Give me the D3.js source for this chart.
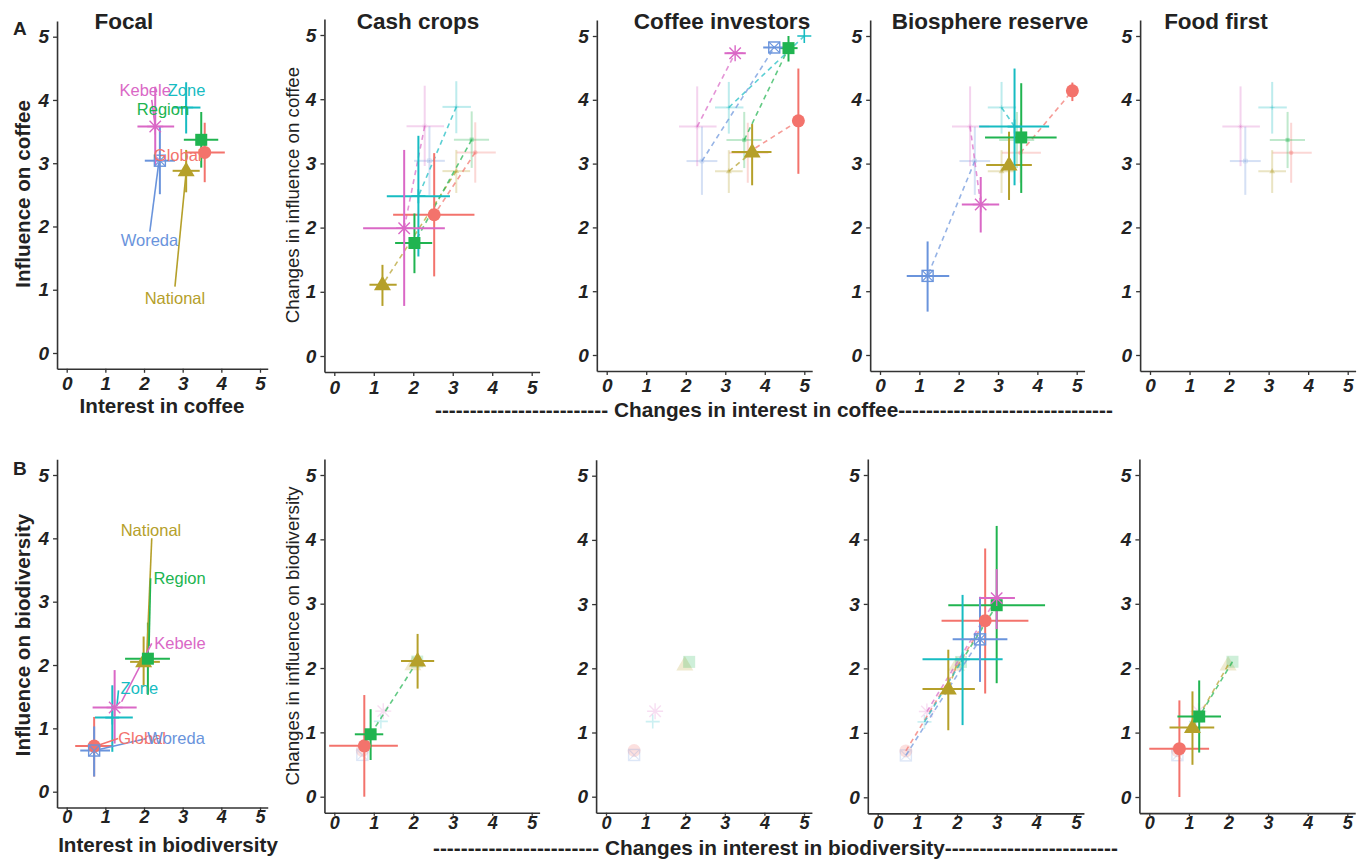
<!DOCTYPE html>
<html>
<head>
<meta charset="utf-8">
<script src="https://cdn.jsdelivr.net/npm/d3@7"></script>
<style>
  body { margin: 0; background: #fff; }
  text { font-family: "Liberation Sans", Arial, sans-serif; }
</style>
</head>
<body>
<div class="div-chart"></div>
<script>
// stakeholder levels and their colours (ggplot hue palette, as printed)
const levels = ["Global", "National", "Region", "Zone", "Woreda", "Kebele"];
const colours = ["#F3736C", "#B5A02A", "#20B450", "#17BCC2", "#6A94DC", "#DA68C6"];
const tickValues = [0, 1, 2, 3, 4, 5];

// rows: level, x, xLo, xHi, y, yLo, yHi
const focalCoffee = [
  ["Global", 3.57, 3.10, 4.09, 3.17, 2.70, 3.64],
  ["National", 3.09, 2.74, 3.44, 2.88, 2.54, 3.21],
  ["Region", 3.48, 3.03, 3.92, 3.37, 2.93, 3.81],
  ["Zone", 3.09, 2.74, 3.46, 3.88, 3.47, 4.28],
  ["Woreda", 2.41, 2.02, 2.80, 3.04, 2.51, 3.58],
  ["Kebele", 2.29, 1.83, 2.78, 3.58, 2.96, 4.21]
];
const cashCoffee = [
  ["Global", 2.53, 1.49, 3.55, 2.20, 1.24, 3.16],
  ["National", 1.22, 0.89, 1.58, 1.11, 0.78, 1.42],
  ["Region", 2.03, 1.54, 2.48, 1.76, 1.29, 2.22],
  ["Zone", 2.13, 1.33, 2.93, 2.49, 1.55, 3.43],
  ["Kebele", 1.77, 0.73, 2.80, 1.99, 0.78, 3.21]
];
const investorsCoffee = [
  ["Global", 4.85, 4.85, 4.85, 3.67, 2.84, 4.49],
  ["National", 3.68, 3.16, 4.17, 3.18, 2.66, 3.62],
  ["Region", 4.60, 4.38, 4.83, 4.81, 4.60, 5.00],
  ["Zone", 5.00, 5.00, 5.00, 5.00, 5.00, 5.00],
  ["Woreda", 4.24, 3.96, 4.55, 4.82, 4.82, 4.82],
  ["Kebele", 3.25, 2.98, 3.52, 4.73, 4.73, 4.73]
];
const biosphereCoffee = [
  ["Global", 4.89, 4.89, 4.89, 4.14, 3.98, 4.27],
  ["National", 3.28, 2.70, 3.86, 2.98, 2.43, 3.50],
  ["Region", 3.59, 2.67, 4.49, 3.41, 2.54, 4.26],
  ["Zone", 3.42, 2.52, 4.30, 3.58, 2.66, 4.49],
  ["Woreda", 1.21, 0.68, 1.76, 1.24, 0.68, 1.78],
  ["Kebele", 2.56, 2.08, 3.03, 2.36, 1.92, 2.79]
];
const foodCoffee = [];

const focalBio = [
  ["Global", 0.71, 0.22, 1.20, 0.72, 0.24, 1.18],
  ["National", 1.99, 1.64, 2.41, 2.05, 1.66, 2.45],
  ["Region", 2.10, 1.51, 2.67, 2.10, 1.53, 2.67],
  ["Zone", 1.18, 0.73, 1.71, 1.17, 0.63, 1.68],
  ["Woreda", 0.71, 0.35, 1.12, 0.65, 0.24, 1.03],
  ["Kebele", 1.24, 0.67, 1.81, 1.33, 0.76, 1.92]
];
const cashBio = [
  ["Global", 0.76, -0.13, 1.61, 0.79, 0.00, 1.58],
  ["National", 2.11, 1.69, 2.53, 2.11, 1.68, 2.53],
  ["Region", 0.92, 0.52, 1.24, 0.97, 0.57, 1.36]
];
const investorsBio = [];
const biosphereBio = [
  ["Global", 2.71, 1.61, 3.80, 2.74, 1.61, 3.86],
  ["National", 1.78, 1.13, 2.45, 1.68, 1.04, 2.29],
  ["Region", 3.00, 1.78, 4.22, 2.98, 1.77, 4.21],
  ["Zone", 2.14, 1.13, 3.15, 2.14, 1.12, 3.14],
  ["Woreda", 2.58, 1.89, 3.27, 2.45, 1.79, 3.11],
  ["Kebele", 3.00, 2.56, 3.46, 3.09, 2.61, 3.54]
];
const foodBio = [
  ["Global", 0.76, 0.00, 1.51, 0.75, 0.00, 1.50],
  ["National", 1.09, 0.51, 1.64, 1.08, 0.50, 1.64],
  ["Region", 1.26, 0.71, 1.81, 1.25, 0.69, 1.81]
];

// repelled labels in focal panels: level, labelX, labelY, segment from (x1,y1) to (x2,y2)
const focalCoffeeLabels = [
  ["Kebele", 2.03, 4.15, 2.2, 4.0, 2.28, 3.62],
  ["Zone", 3.10, 4.15, 3.09, 4.05, 3.09, 3.9],
  ["Region", 2.49, 3.85, 2.49, 3.85, 2.49, 3.85],
  ["Global", 2.87, 3.13, 2.87, 3.13, 2.87, 3.13],
  ["Woreda", 2.14, 1.79, 2.15, 1.92, 2.38, 3.0],
  ["National", 2.80, 0.86, 2.80, 1.05, 3.08, 2.8]
];
const focalBioLabels = [
  ["National", 2.18, 4.13, 2.2, 4.0, 2.07, 2.13],
  ["Region", 2.92, 3.37, 2.17, 3.37, 2.13, 2.3],
  ["Kebele", 2.93, 2.34, 2.2, 2.34, 1.42, 1.42],
  ["Zone", 1.88, 1.63, 1.34, 1.6, 1.3, 1.36],
  ["Global", 1.95, 0.84, 1.33, 0.84, 0.8, 0.73],
  ["Woreda", 2.83, 0.84, 2.07, 0.84, 0.86, 0.67]
];

const panelTitles = ["Focal", "Cash crops", "Coffee investors", "Biosphere reserve", "Food first"];

const width = 1366, height = 860;
const svg = d3.select(".div-chart").append("svg")
  .attr("width", width).attr("height", height)
  .attr("viewBox", `0 0 ${width} ${height}`);

const colourScale = d3.scaleOrdinal().domain(levels).range(colours);

// pixel positions of tick 0 and tick 5 for every panel
const boxesA = [
  { x0: 66.7, x5: 260, y0: 353, y5: 36.7 },
  { x0: 334.3, x5: 531.7, y0: 356, y5: 35 },
  { x0: 606.7, x5: 804.3, y0: 355, y5: 36 },
  { x0: 880, x5: 1076.7, y0: 355, y5: 36 },
  { x0: 1150, x5: 1347.7, y0: 355, y5: 36 }
];
const boxesB = [
  { x0: 66.7, x5: 260, y0: 791.7, y5: 475 },
  { x0: 334.3, x5: 531.7, y0: 796.7, y5: 475 },
  { x0: 606, x5: 804, y0: 796.7, y5: 475.7 },
  { x0: 877.7, x5: 1076, y0: 797.3, y5: 475 },
  { x0: 1149.3, x5: 1347.3, y0: 797, y5: 475 }
];

function makePanel(box, tight) {
  const u = (box.x5 - box.x0) / 5;
  const v = (box.y0 - box.y5) / 5;
  const x = d3.scaleLinear().domain([-0.25, 5.2]).range([box.x0 - 0.25 * u, box.x0 + 5.2 * u]);
  const y = d3.scaleLinear().domain([-0.25, 5.25]).range([box.y0 + 0.25 * v, box.y5 - 0.25 * v]);
  const g = svg.append("g");

  // the lower row prints its x tick labels close to the axis
  const xAxis = g.append("g")
    .attr("transform", `translate(0,${y(-0.25)})`)
    .call(d3.axisBottom(x).tickValues(tickValues).tickFormat(d3.format("d"))
      .tickSize(tight ? 3 : 4).tickSizeOuter(0).tickPadding(tight ? 0 : 4));
  const yAxis = g.append("g")
    .attr("transform", `translate(${x(-0.25)},0)`)
    .call(d3.axisLeft(y).tickValues(tickValues).tickFormat(d3.format("d"))
      .tickSize(4).tickSizeOuter(0).tickPadding(4));
  [xAxis, yAxis].forEach((a) => {
    a.select(".domain").attr("stroke", "#333").attr("stroke-width", 1.6);
    a.selectAll(".tick line").attr("stroke", "#333").attr("stroke-width", 1.3);
    a.selectAll(".tick text")
      .attr("fill", "#222")
      .style("font-family", '"Liberation Sans", Arial, sans-serif')
      .style("font-size", "19px")
      .style("font-weight", "bold")
      .style("font-style", "italic");
  });
  if (tight) xAxis.selectAll(".tick text").style("font-size", "18px");
  return { g, x, y };
}

function drawSymbol(g, level, cx, cy, k, colour, opacity) {
  const s = g.append("g").attr("transform", `translate(${cx},${cy}) scale(${k})`).attr("opacity", opacity);
  if (level === "Global") {
    s.append("circle").attr("r", 6.5).attr("fill", colour);
  } else if (level === "National") {
    s.append("path").attr("d", "M0,-9L8.5,5.5L-8.5,5.5Z").attr("fill", colour);
  } else if (level === "Region") {
    s.append("rect").attr("x", -6).attr("y", -6).attr("width", 12).attr("height", 12).attr("fill", colour);
  } else if (level === "Zone") {
    s.append("path").attr("d", "M-7,0H7M0,-7V7").attr("stroke", colour).attr("stroke-width", 1.6).attr("fill", "none");
  } else if (level === "Woreda") {
    s.append("rect").attr("x", -5.5).attr("y", -5.5).attr("width", 11).attr("height", 11)
      .attr("fill", "none").attr("stroke", colour).attr("stroke-width", 1.4);
    s.append("path").attr("d", "M-5.5,-5.5L5.5,5.5M-5.5,5.5L5.5,-5.5").attr("stroke", colour).attr("stroke-width", 1.1);
  } else {
    s.append("path").attr("d", "M-8,0H8M0,-8V8M-5.7,-5.7L5.7,5.7M-5.7,5.7L5.7,-5.7")
      .attr("stroke", colour).attr("stroke-width", 1.4).attr("fill", "none");
  }
}

function drawErrorBars(g, x, y, d, opacity, lineWidth) {
  const colour = colourScale(d[0]);
  g.append("line")
    .attr("x1", x(d[2])).attr("x2", x(d[3])).attr("y1", y(d[4])).attr("y2", y(d[4]))
    .attr("stroke", colour).attr("stroke-width", lineWidth).attr("opacity", opacity);
  g.append("line")
    .attr("x1", x(d[1])).attr("x2", x(d[1])).attr("y1", y(d[5])).attr("y2", y(d[6]))
    .attr("stroke", colour).attr("stroke-width", lineWidth).attr("opacity", opacity);
}

function drawFocal(p, data, labels) {
  data.forEach((d) => drawErrorBars(p.g, p.x, p.y, d, 1, 2));
  labels.forEach((l) => {
    p.g.append("line")
      .attr("x1", p.x(l[3])).attr("y1", p.y(l[4])).attr("x2", p.x(l[5])).attr("y2", p.y(l[6]))
      .attr("stroke", colourScale(l[0])).attr("stroke-width", 1.6);
  });
  data.forEach((d) => drawSymbol(p.g, d[0], p.x(d[1]), p.y(d[4]), 1, colourScale(d[0]), 1));
  labels.forEach((l) => {
    p.g.append("text")
      .attr("x", p.x(l[1])).attr("y", p.y(l[2]))
      .attr("dy", "0.35em")
      .attr("text-anchor", "middle")
      .attr("fill", colourScale(l[0]))
      .style("font-size", "16.5px")
      .text(l[0]);
  });
}

function drawScenario(p, base, data, fadedWithBars) {
  // faded baseline
  base.forEach((d) => {
    if (fadedWithBars) {
      drawErrorBars(p.g, p.x, p.y, d, 0.28, 2);
      drawSymbol(p.g, d[0], p.x(d[1]), p.y(d[4]), 0.35, colourScale(d[0]), 0.35);
    } else {
      drawSymbol(p.g, d[0], p.x(d[1]), p.y(d[4]), 1, colourScale(d[0]), 0.22);
    }
  });
  // dashed change lines
  data.forEach((d) => {
    const b = base.find((e) => e[0] === d[0]);
    p.g.append("line")
      .attr("x1", p.x(b[1])).attr("y1", p.y(b[4])).attr("x2", p.x(d[1])).attr("y2", p.y(d[4]))
      .attr("stroke", colourScale(d[0])).attr("stroke-width", 1.6)
      .attr("stroke-dasharray", "5,4").attr("opacity", 0.7);
  });
  data.forEach((d) => drawErrorBars(p.g, p.x, p.y, d, 1, 2));
  data.forEach((d) => drawSymbol(p.g, d[0], p.x(d[1]), p.y(d[4]), 1, colourScale(d[0]), 1));
}

const scenariosA = [cashCoffee, investorsCoffee, biosphereCoffee, foodCoffee];
const scenariosB = [cashBio, investorsBio, biosphereBio, foodBio];

const panelsA = boxesA.map((b) => makePanel(b, false));
const panelsB = boxesB.map((b) => makePanel(b, true));

drawFocal(panelsA[0], focalCoffee, focalCoffeeLabels);
drawFocal(panelsB[0], focalBio, focalBioLabels);
scenariosA.forEach((s, i) => drawScenario(panelsA[i + 1], focalCoffee, s, true));
scenariosB.forEach((s, i) => drawScenario(panelsB[i + 1], focalBio, s, false));

// titles
const titleX = [124, 418, 722, 990, 1216];
panelTitles.forEach((t, i) => {
  svg.append("text").attr("x", titleX[i]).attr("y", 29)
    .attr("text-anchor", "middle").style("font-size", "22.5px").style("font-weight", "bold")
    .attr("fill", "#222").text(t);
});
svg.append("text").attr("x", 13).attr("y", 35).style("font-size", "19px").style("font-weight", "bold").attr("fill", "#222").text("A");
svg.append("text").attr("x", 13).attr("y", 475).style("font-size", "19px").style("font-weight", "bold").attr("fill", "#222").text("B");

// axis titles
function vTitle(x, y, size, weight, t) {
  svg.append("text").attr("transform", `translate(${x},${y}) rotate(-90)`)
    .attr("text-anchor", "middle").style("font-size", size + "px").style("font-weight", weight)
    .attr("fill", "#222").text(t);
}
function hTitle(x, y, size, t, anchor) {
  svg.append("text").attr("x", x).attr("y", y)
    .attr("text-anchor", anchor || "middle").style("font-size", size + "px").style("font-weight", "bold")
    .attr("fill", "#222").text(t);
}
vTitle(30, 194, 20.6, "bold", "Influence on coffee");
vTitle(299, 195, 18.7, "normal", "Changes in influence on coffee");
vTitle(30, 635, 20.6, "bold", "Influence on biodiversity");
vTitle(299, 636, 18.7, "normal", "Changes in influence on biodiversity");
hTitle(162, 413, 20.6, "Interest in coffee");
hTitle(168, 852, 20.6, "Interest in biodiversity");
hTitle(435, 417, 20.8, "-".repeat(25) + " Changes in interest in coffee" + "-".repeat(31), "start");
hTitle(433, 855, 20.8, "-".repeat(24) + " Changes in interest in biodiversity" + "-".repeat(25), "start");
</script>
</body>
</html>
